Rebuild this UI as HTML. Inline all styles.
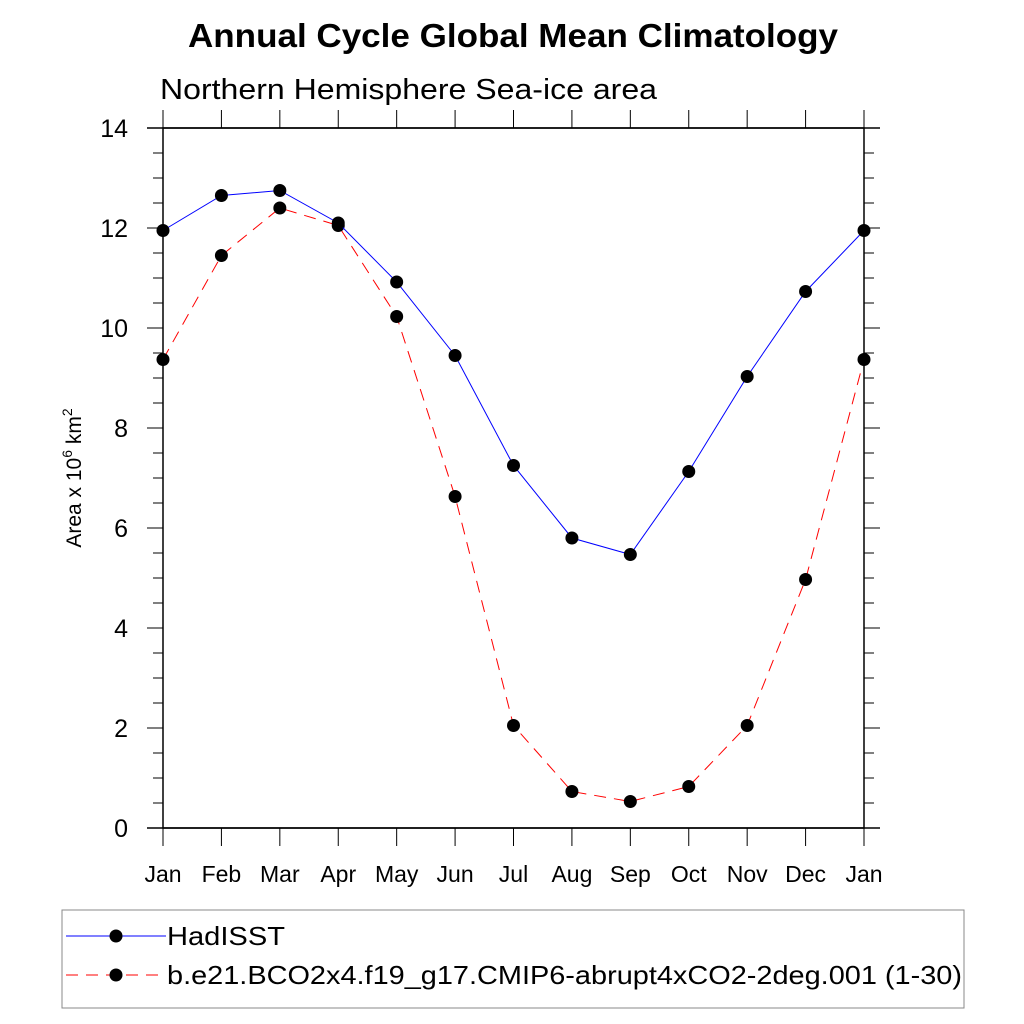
<!DOCTYPE html>
<html><head><meta charset="utf-8"><style>
html,body{margin:0;padding:0;background:#fff}
svg{display:block;font-family:"Liberation Sans",sans-serif}
</style></head><body>
<svg width="1024" height="1024" viewBox="0 0 1024 1024">
<text x="188" y="47" font-size="33" font-weight="bold" textLength="650" lengthAdjust="spacingAndGlyphs">Annual Cycle Global Mean Climatology</text>
<text x="160" y="99" font-size="29" textLength="497" lengthAdjust="spacingAndGlyphs">Northern Hemisphere Sea-ice area</text>
<g id="axes"></g>
<g id="series"></g>
<text transform="translate(81,478) rotate(-90)" text-anchor="middle" font-size="21">Area x 10<tspan dy="-9" font-size="14">6</tspan><tspan dy="9"> km</tspan><tspan dy="-9" font-size="14">2</tspan></text>
<rect x="62" y="910" width="902" height="98" fill="none" stroke="#888" stroke-width="1"/>
<g>
<line x1="66" y1="936" x2="166" y2="936" stroke="#00f" stroke-width="1"/>
<circle cx="116" cy="936" r="6.5" fill="#000"/>
<text x="167" y="945" font-size="26" textLength="118" lengthAdjust="spacingAndGlyphs">HadISST</text>
</g>
<g>
<line x1="66" y1="975" x2="166" y2="975" stroke="#f00" stroke-width="1" stroke-dasharray="12,8"/>
<circle cx="116" cy="975" r="6.5" fill="#000"/>
<text x="167" y="984" font-size="26" textLength="795" lengthAdjust="spacingAndGlyphs">b.e21.BCO2x4.f19_g17.CMIP6-abrupt4xCO2-2deg.001 (1-30)</text>
</g>
</svg>
<script>
const months=["Jan","Feb","Mar","Apr","May","Jun","Jul","Aug","Sep","Oct","Nov","Dec","Jan"];
const yTicks=[0,2,4,6,8,10,12,14];
const hadisst=[11.95,12.65,12.75,12.1,10.92,9.45,7.25,5.8,5.47,7.13,9.03,10.73,11.95];
const model=[9.37,11.45,12.4,12.05,10.23,6.63,2.05,0.73,0.53,0.83,2.05,4.97,9.37];
const NS="http://www.w3.org/2000/svg";
const L=163,R=864,T=128,B=828;
function xs(i){return L+(R-L)*i/12;}
function ys(v){return B-(B-T)*v/14;}
function mk(tag,attrs,parent){const e=document.createElementNS(NS,tag);for(const k in attrs)e.setAttribute(k,attrs[k]);parent.appendChild(e);return e;}
const ax=document.getElementById('axes');
let f=mk('rect',{x:L,y:T,width:R-L,height:B-T,fill:'none',stroke:'#000','stroke-width':1.5},ax);


mk('line',{x1:147,y1:T,x2:880,y2:T,stroke:'#000','stroke-width':1.5},ax);
mk('line',{x1:147,y1:B,x2:880,y2:B,stroke:'#000','stroke-width':1.5},ax);
for(let v=0;v<=14.001;v+=0.5){
  const y=ys(v),maj=Math.abs(v-Math.round(v/2)*2)<1e-6,len=maj?16:10;
  mk('line',{x1:L-len,y1:y,x2:L,y2:y,stroke:'#000','stroke-width':1},ax);
  mk('line',{x1:R,y1:y,x2:R+len,y2:y,stroke:'#000','stroke-width':1},ax);
}
yTicks.forEach(v=>{
  const t=mk('text',{x:128,y:ys(v)+9,'text-anchor':'end','font-size':25},ax);
  t.textContent=v;
  
  
});
months.forEach((m,i)=>{
  const x=xs(i);
  mk('line',{x1:x,y1:T-18,x2:x,y2:T,stroke:'#000','stroke-width':1},ax);
  mk('line',{x1:x,y1:B,x2:x,y2:B+18,stroke:'#000','stroke-width':1},ax);
  const t=mk('text',{x:x,y:882,'text-anchor':'middle','font-size':23},ax);
  t.textContent=m;
  
  
});
const sg=document.getElementById('series');
function draw(vals,color,dash,name){
  const g=mk('g',{},sg);
  
  
  const pts=vals.map((v,i)=>xs(i)+','+ys(v)).join(' ');
  const a={points:pts,fill:'none',stroke:color,'stroke-width':1};
  if(dash)a['stroke-dasharray']=dash;
  mk('polyline',a,g);
  vals.forEach((v,i)=>{
    const c=mk('circle',{cx:xs(i),cy:ys(v),r:6.5,fill:'#000'},g);
    
    
  });
}
draw(model,'#f00','12,8','model-series');
draw(hadisst,'#00f',null,'hadisst-series');
</script>
</body></html>
